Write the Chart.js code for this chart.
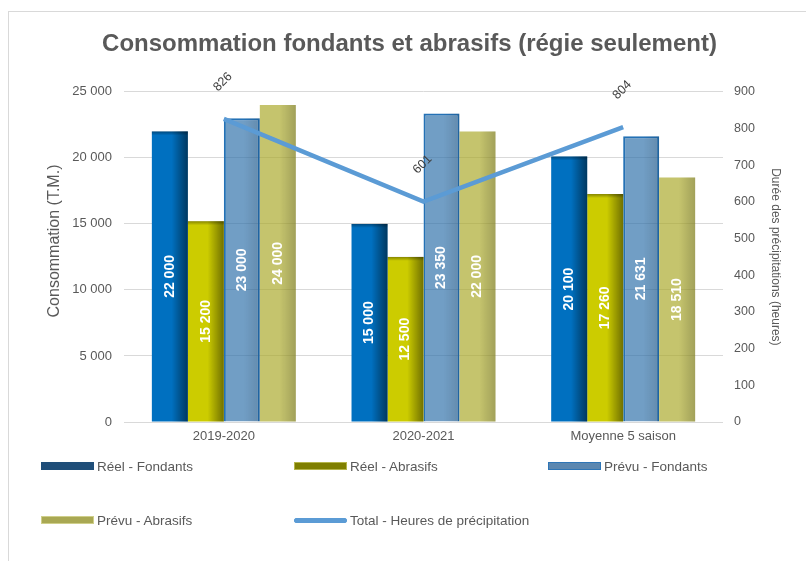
<!DOCTYPE html>
<html><head><meta charset="utf-8">
<script src="https://cdn.jsdelivr.net/npm/chart.js@4.4.1/dist/chart.umd.min.js"></script>
<style>
html,body{margin:0;padding:0;background:#fff;}
#wrap{position:relative;width:806px;height:561px;overflow:hidden;font-family:"Liberation Sans",Arial,sans-serif;}
#frame{position:absolute;left:8px;top:11px;width:900px;height:700px;border-left:1px solid #d9d9d9;border-top:1px solid #d9d9d9;}
#c{position:absolute;left:0;top:0;}
.leg{position:absolute;font-size:13.5px;color:#595959;display:flex;align-items:center;white-space:nowrap;height:16px;}
.sw{width:53px;height:8px;margin-right:3px;box-sizing:border-box;}
</style></head>
<body>
<div id="wrap">
<div id="frame"></div>
<canvas id="c" width="806" height="561"></canvas>
<div id="legend"></div>
</div>
<script>
const categories = ['2019-2020', '2020-2021', 'Moyenne 5 saison'];
const reelFondants = [22000, 15000, 20100];
const reelAbrasifs = [15200, 12500, 17260];
const prevuFondants = [23000, 23350, 21631];
const prevuAbrasifs = [24000, 22000, 18510];
const heuresPrecip = [826, 601, 804];
const seriesLabels = ['Réel - Fondants', 'Réel - Abrasifs', 'Prévu - Fondants', 'Prévu - Abrasifs', 'Total - Heures de précipitation'];
const chartTitle = 'Consommation fondants et abrasifs (régie seulement)';
const leftAxisTitle = 'Consommation (T.M.)';
const rightAxisTitle = 'Durée des précipitations (heures)';

function fmt(v){ return String(Math.round(v)).replace(/\B(?=(\d{3})+(?!\d))/g, ' '); }

const GRAY = '#595959';
const FONT = '"Liberation Sans", Arial, sans-serif';

const shadePlugin = {
  id: 'shade',
  afterDatasetDraw(chart, args) {
    const ds = chart.data.datasets[args.index];
    if (ds.type === 'line') return;
    const ctx = chart.ctx;
    const meta = args.meta;
    const s = ds.shade || 0.4;
    ctx.save();
    meta.data.forEach(el => {
      const p = el.getProps(['x','y','base','width'], true);
      const l = p.x - p.width/2;
      const g = ctx.createLinearGradient(l, 0, l + p.width, 0);
      g.addColorStop(0, 'rgba(0,0,0,0)');
      g.addColorStop(0.55, 'rgba(0,0,0,0)');
      g.addColorStop(1, 'rgba(0,0,0,' + s + ')');
      ctx.fillStyle = g;
      ctx.fillRect(l, p.y, p.width, p.base - p.y);
      if (ds.topLine) {
        const g2 = ctx.createLinearGradient(0, p.y, 0, p.y + 4);
        g2.addColorStop(0, 'rgba(0,0,0,0.35)');
        g2.addColorStop(1, 'rgba(0,0,0,0)');
        ctx.fillStyle = g2;
        ctx.fillRect(l, p.y, p.width, 4);
      }
    });
    ctx.restore();
  },
  afterDatasetsDraw(chart) {
    const ctx = chart.ctx;
    ctx.save();
    chart.data.datasets.forEach((ds, i) => {
      const meta = chart.getDatasetMeta(i);
      meta.data.forEach((el, j) => {
        const v = ds.data[j];
        if (ds.type === 'line') {
          const p = el.getProps(['x','y'], true);
          ctx.save();
          ctx.translate(p.x - 1, p.y - 37);
          ctx.rotate(-Math.PI/4);
          ctx.fillStyle = '#404040';
          ctx.font = '12.5px ' + FONT;
          ctx.textAlign = 'center';
          ctx.textBaseline = 'middle';
          ctx.fillText(fmt(v), 0, 0);
          ctx.restore();
        } else {
          const p = el.getProps(['x','y','base'], true);
          ctx.save();
          ctx.translate(p.x, (p.y + p.base)/2);
          ctx.rotate(-Math.PI/2);
          ctx.fillStyle = '#ffffff';
          ctx.font = 'bold 14px ' + FONT;
          ctx.textAlign = 'center';
          ctx.textBaseline = 'middle';
          ctx.fillText(fmt(v), 0, 0);
          ctx.restore();
        }
      });
    });
    ctx.restore();
  },
  afterDraw(chart) {
    const ctx = chart.ctx;
    ctx.save();
    ctx.translate(55, 241);
    ctx.rotate(-Math.PI/2);
    ctx.fillStyle = GRAY;
    ctx.font = '16px ' + FONT;
    ctx.textAlign = 'center';
    ctx.textBaseline = 'middle';
    ctx.fillText(leftAxisTitle, 0, 0);
    ctx.restore();
  }
};

const chart = new Chart(document.getElementById('c'), {
  data: {
    labels: categories,
    datasets: [
      { type:'line', label: seriesLabels[4], data: heuresPrecip, yAxisID:'y1', borderColor:'#5B9BD5', borderWidth:4.5, pointRadius:0, order:0, tension:0 },
      { type:'bar', label: seriesLabels[0], data: reelFondants, yAxisID:'y', backgroundColor:'#0070C0', order:1, shade:0.5, topLine:true },
      { type:'bar', label: seriesLabels[1], data: reelAbrasifs, yAxisID:'y', backgroundColor:'#CCCC00', order:1, shade:0.45, topLine:true },
      { type:'bar', label: seriesLabels[2], data: prevuFondants, yAxisID:'y', backgroundColor:'rgba(46,112,170,0.68)', borderColor:'#2471B5', borderWidth:2, order:1, shade:0.12 },
      { type:'bar', label: seriesLabels[3], data: prevuAbrasifs, yAxisID:'y', backgroundColor:'rgba(170,168,40,0.68)', order:1, shade:0.18 }
    ]
  },
  options: {
    responsive:false,
    animation:false,
    devicePixelRatio:1,
    layout:{ padding:{ left:36, right:23, top:0, bottom:0 } },
    datasets:{ bar:{ categoryPercentage:0.721, barPercentage:1.0 } },
    plugins:{
      legend:{ display:false },
      tooltip:{ enabled:false },
      title:{ display:true, text:chartTitle, color:GRAY,
        font:{ family:FONT, size:24, weight:'bold' }, padding:{ top:30, bottom:33 } }
    },
    scales:{
      x:{
        grid:{ display:false, drawTicks:false },
        border:{ display:false },
        ticks:{ color:GRAY, font:{ family:FONT, size:13 }, padding:7, maxRotation:0 },
        afterFit(s){ s.height = 139; }
      },
      y:{
        position:'left', min:0, max:25000,
        grid:{ color:'#d9d9d9', drawTicks:false },
        border:{ display:false },
        ticks:{ stepSize:5000, color:GRAY, font:{ family:FONT, size:13 }, padding:12, callback:v => fmt(v) },
        afterFit(s){ s.width = 88; }
      },
      y1:{
        position:'right', min:0, max:900,
        grid:{ display:false, drawTicks:false },
        border:{ display:false },
        ticks:{ stepSize:100, color:GRAY, font:{ family:FONT, size:12.5 }, padding:11 },
        title:{ display:true, text:rightAxisTitle, color:GRAY, font:{ family:FONT, size:12 }, padding:{top:0,bottom:3} },
        afterFit(s){ s.width = 60; }
      }
    }
  },
  plugins:[shadePlugin]
});

// HTML legend built from dataset definitions
const legendStyles = [
  { bg:'#1F4E79', border:'#1F4E79' },
  { bg:'#7F7F00', border:'#B5B54A' },
  { bg:'#5B87B0', border:'#2E75B6' },
  { bg:'#A9A853', border:'#CFCF8A' },
  { bg:'#5B9BD5', border:'#5B9BD5', line:true }
];
const legendPos = [[41,458],[294,458],[548,458],[41,512],[294,512]];
const order = [1,2,3,4,0];
const legendEl = document.getElementById('legend');
order.forEach((di, k) => {
  const ds = chart.data.datasets[di];
  const st = legendStyles[k];
  const d = document.createElement('div');
  d.className = 'leg';
  d.style.left = legendPos[k][0] + 'px';
  d.style.top = legendPos[k][1] + 'px';
  const sw = document.createElement('div');
  sw.className = 'sw';
  sw.style.background = st.bg;
  sw.style.border = '1px solid ' + st.border;
  if (st.line) { sw.style.height = '5px'; sw.style.borderRadius = '2px'; }
  d.appendChild(sw);
  const t = document.createElement('span');
  t.textContent = ds.label;
  d.appendChild(t);
  legendEl.appendChild(d);
});
</script>
</body></html>
